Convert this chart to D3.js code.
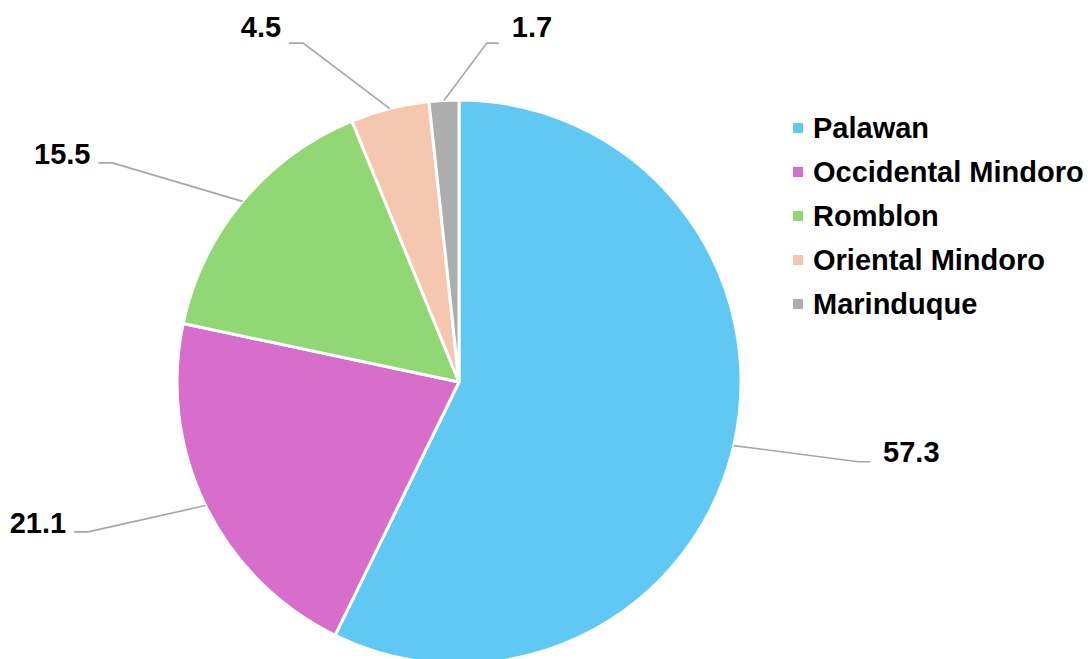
<!DOCTYPE html>
<html>
<head>
<meta charset="utf-8">
<script src="https://cdn.jsdelivr.net/npm/d3@7"></script>
<style>
  html, body { margin: 0; padding: 0; background: #fff; }
  #chart { width: 1088px; height: 659px; }
  text { font-family: "Liberation Sans", Arial, sans-serif; font-weight: bold; }
</style>
</head>
<body>
<div id="chart"></div>
<script>
const provinces = ["Palawan", "Occidental Mindoro", "Romblon", "Oriental Mindoro", "Marinduque"];
const shares = [57.3, 21.1, 15.5, 4.5, 1.7];
const colors = ["#60C9F3", "#D76ECB", "#91D874", "#F6C7AF", "#ADADAD"];

// where each leader line bends: [angle in degrees from 12 o'clock, distance from centre, text nudge]
const labelPlacement = [[101.3, 407, 0], [248, 400, 1], [302.3, 410, 1], [335.3, 373, -6], [4.7, 340, -6]];

const fullWidth = 1088, fullHeight = 659;
const cx = 459, cy = 382, radius = 282;

const svg = d3.select("#chart").append("svg")
  .attr("width", fullWidth)
  .attr("height", fullHeight);

const g = svg.append("g").attr("transform", `translate(${cx},${cy})`);

const pie = d3.pie().sort(null).value(d => d);
const arcs = pie(shares);
const arc = d3.arc().innerRadius(0).outerRadius(radius);

g.selectAll("path.slice")
  .data(arcs)
  .enter()
  .append("path")
  .attr("class", "slice")
  .attr("d", arc)
  .attr("fill", (d, i) => colors[i])
  .attr("stroke", "#fff")
  .attr("stroke-width", 3)
  .attr("stroke-linejoin", "round");

function polar(angleDeg, r) {
  const a = angleDeg * Math.PI / 180;
  return [r * Math.sin(a), -r * Math.cos(a)];
}

const labels = g.selectAll("g.label")
  .data(arcs)
  .enter()
  .append("g")
  .attr("class", "label");

labels.each(function(d, i) {
  const mid = (d.startAngle + d.endAngle) / 2 * 180 / Math.PI;
  const start = polar(mid, radius);
  const [ang, dist, dy] = labelPlacement[i];
  const elbow = polar(ang, dist);
  const right = elbow[0] > 0;
  const end = [elbow[0] + (right ? 12 : -14), elbow[1]];
  const sel = d3.select(this);
  sel.append("polyline")
    .attr("points", [start, elbow, end].map(p => p.join(",")).join(" "))
    .attr("fill", "none")
    .attr("stroke", "#A6A6A6")
    .attr("stroke-width", 1.6);
  sel.append("text")
    .attr("x", end[0] + (right ? 13 : -8))
    .attr("y", end[1] + dy)
    .attr("text-anchor", right ? "start" : "end")
    .attr("font-size", "29px")
    .attr("fill", "#000")
    .text(d3.format(".1f")(d.data));
});

const legend = svg.append("g").attr("transform", "translate(793,128)");
const rows = legend.selectAll("g")
  .data(provinces)
  .enter()
  .append("g")
  .attr("transform", (d, i) => `translate(0,${i * 44})`);

rows.append("rect")
  .attr("x", 0)
  .attr("y", -5)
  .attr("width", 10)
  .attr("height", 10)
  .attr("fill", (d, i) => colors[i]);

rows.append("text")
  .attr("x", 20)
  .attr("y", 10)
  .attr("font-size", "29px")
  .attr("fill", "#000")
  .text(d => d);
</script>
</body>
</html>
